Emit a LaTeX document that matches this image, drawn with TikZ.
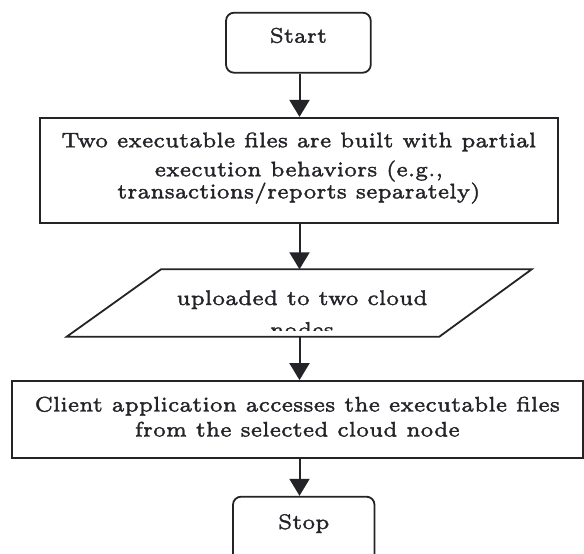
\documentclass[tikz,border=0pt]{standalone}
\usepackage{graphicx}
\usetikzlibrary{arrows.meta,calc}
\definecolor{ink}{RGB}{35,35,40}
\newcommand\fctext[2]{\raisebox{#1}[\height][\depth]{\scalebox{3.51}{\fontsize{6}{7.5}\selectfont\special{pdf:literal direct 2 Tr 0.1 w}\begin{tabular}{@{}c@{}}#2\end{tabular}\special{pdf:literal direct 0 Tr}}}}
\begin{document}
\begin{tikzpicture}[x=1pt,y=-1pt,color=ink,
  box/.style={draw=ink, line width=1.8pt, inner sep=0pt, rectangle},
  term/.style={box, rounded corners=8pt},
  arr/.style={draw=ink, line width=2pt, -{Triangle[length=17pt,width=20pt]}}]
\clip (0,0) rectangle (584,554);
\coordinate (axis) at (299.5,0);
\node[term, minimum width=144.7pt, minimum height=60pt] (start) at (298.4,42.7) {\fctext{5.3pt}{Start}};
\node[box, minimum width=517.6pt, minimum height=104.9pt] (build) at (298.8,170.25)
  {\fctext{2.7pt}{Two executable files are built with partial\\[0.77pt] execution behaviors (e.g.,\\[-1.22pt] transactions/reports separately)}};
\node[minimum width=465pt, minimum height=67.4pt, inner sep=0pt, outer sep=0pt] (upl) at (299.2,303) {};
\draw[ink, line width=1.8pt] (upl.south west) -- ($(upl.south east)+(-92.4,0)$) -- (upl.north east) -- ($(upl.north west)+(94.3,0)$) -- cycle;
\begin{scope}
  \clip (0,0) rectangle (584,330.5);
  \node[inner sep=0pt] (upltext) at (302,315.6) {\fctext{0pt}{uploaded to two cloud\\[1.54pt] nodes}};
\end{scope}
\node[box, minimum width=571.3pt, minimum height=77.3pt] (client) at (297.35,419.65)
  {\fctext{0.9pt}{Client application accesses the executable files\\[-0.37pt] from the selected cloud node}};
\node[term, minimum width=141.5pt, minimum height=69.3pt] (stop) at (303.75,531.35) {\fctext{7.65pt}{Stop}};
\draw[arr] (start.south -| axis) -- (build.north -| axis);
\draw[arr] (build.south -| axis) -- (upl.north -| axis);
\draw[arr] (upl.south -| axis) -- (client.north -| axis);
\draw[arr] (client.south -| axis) -- (stop.north -| axis);
\end{tikzpicture}
\end{document}
